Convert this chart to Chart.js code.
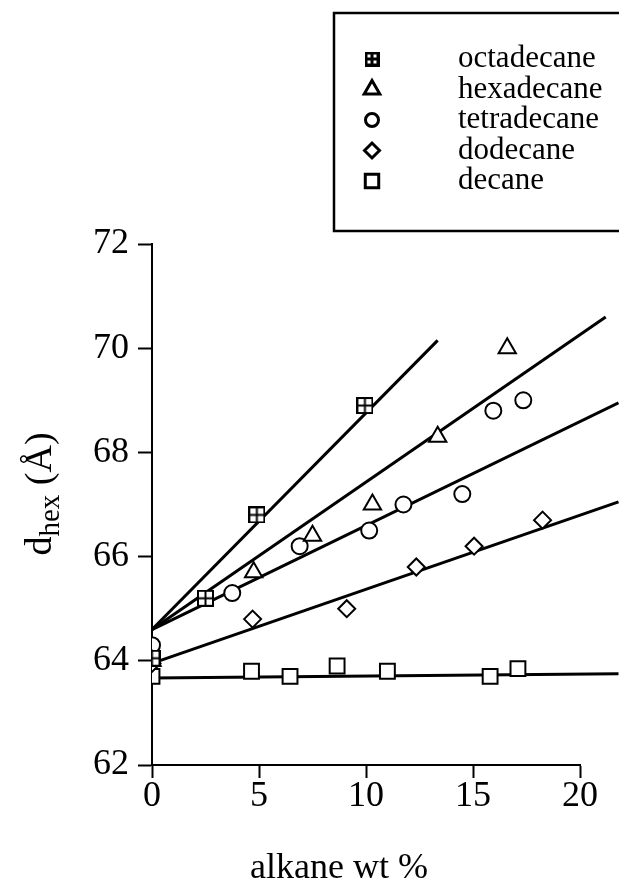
<!DOCTYPE html>
<html lang="en">
<head>
  <meta charset="UTF-8">
  <title>d_hex vs alkane wt %</title>
  <script src="https://cdn.jsdelivr.net/npm/chart.js"></script>
  <style>
    html, body { margin: 0; padding: 0; background: #fff; }
    #wrap { width: 619px; height: 894px; }
  </style>
</head>
<body>
  <div id="wrap"><canvas id="chart"></canvas></div>

  <script>
    const SERIF = "'Liberation Serif', 'Times New Roman', serif";

    const seriesNames = ['octadecane', 'hexadecane', 'tetradecane', 'dodecane', 'decane'];

    // measured points: alkane wt % (x) and d_hex in Å (y)
    const octX = [0, 2.5, 4.9, 9.95];
    const octY = [64.05, 65.2, 66.8, 68.9];
    const hexX = [0, 4.75, 7.5, 10.3, 13.35, 16.6];
    const hexY = [64.0, 65.7, 66.4, 67.0, 68.3, 70.0];
    const tetX = [0, 3.75, 6.9, 10.15, 11.75, 14.5, 15.95, 17.35];
    const tetY = [64.3, 65.3, 66.2, 66.5, 67.0, 67.2, 68.8, 69.0];
    const dodX = [0, 4.7, 9.1, 12.35, 15.05, 18.25];
    const dodY = [63.95, 64.8, 65.0, 65.8, 66.2, 66.7];
    const decX = [0, 4.65, 6.45, 8.65, 11.0, 15.8, 17.1];
    const decY = [63.7, 63.8, 63.7, 63.9, 63.8, 63.7, 63.85];

    // fitted straight lines, start and end as drawn in the figure
    const octFitX = [0, 13.35];
    const octFitY = [64.6, 70.15];
    const hexFitX = [0, 21.2];
    const hexFitY = [64.6, 70.6];
    const tetFitX = [0, 21.8];
    const tetFitY = [64.6, 68.95];
    const dodFitX = [0, 21.8];
    const dodFitY = [63.95, 67.05];
    const decFitX = [0, 21.8];
    const decFitY = [63.67, 63.75];

    const xTicks = [0, 5, 10, 15, 20];
    const yTicks = [62, 64, 66, 68, 70, 72];

    // square with a cross inside (octadecane marker)
    function boxPlus(size, lw) {
      const c = document.createElement('canvas');
      c.width = size;
      c.height = size;
      const g = c.getContext('2d');
      const h = lw / 2;
      g.fillStyle = '#fff';
      g.strokeStyle = '#000';
      g.lineWidth = lw;
      g.fillRect(h, h, size - lw, size - lw);
      g.strokeRect(h, h, size - lw, size - lw);
      g.beginPath();
      g.moveTo(size / 2, h);
      g.lineTo(size / 2, size - h);
      g.moveTo(h, size / 2);
      g.lineTo(size - h, size / 2);
      g.stroke();
      return c;
    }

    const toPts = (xs, ys) => xs.map((x, i) => ({ x: x, y: ys[i] }));

    function pointSet(label, xs, ys, style, radius) {
      return {
        label: label,
        data: toPts(xs, ys),
        showLine: false,
        pointStyle: style,
        pointRadius: radius,
        pointHoverRadius: radius,
        pointBorderWidth: 2,
        pointBorderColor: '#000',
        pointBackgroundColor: '#fff',
        order: 0
      };
    }

    function fitSet(xs, ys) {
      return {
        label: '',
        data: toPts(xs, ys),
        showLine: true,
        pointRadius: 0,
        borderColor: '#000',
        borderWidth: 3,
        clip: false,
        order: 1
      };
    }

    const markers = [
      { style: boxPlus(17, 2), radius: 8, legend: boxPlus(15, 3), legendRadius: 7 },
      { style: 'triangle', radius: 10, legend: 'triangle', legendRadius: 9 },
      { style: 'circle', radius: 8, legend: 'circle', legendRadius: 6.5 },
      { style: 'rectRot', radius: 8.5, legend: 'rectRot', legendRadius: 7.5 },
      { style: 'rect', radius: 10.5, legend: 'rect', legendRadius: 9.5 }
    ];

    const datasets = [
      pointSet(seriesNames[0], octX, octY, markers[0].style, markers[0].radius),
      pointSet(seriesNames[1], hexX, hexY, markers[1].style, markers[1].radius),
      pointSet(seriesNames[2], tetX, tetY, markers[2].style, markers[2].radius),
      pointSet(seriesNames[3], dodX, dodY, markers[3].style, markers[3].radius),
      pointSet(seriesNames[4], decX, decY, markers[4].style, markers[4].radius),
      fitSet(octFitX, octFitY),
      fitSet(hexFitX, hexFitY),
      fitSet(tetFitX, tetFitY),
      fitSet(dodFitX, dodFitY),
      fitSet(decFitX, decFitY)
    ];

    // boxed legend and the two axis titles
    const decorations = {
      id: 'decorations',
      afterDraw(chart) {
        const ctx = chart.ctx;
        ctx.save();

        ctx.strokeStyle = '#000';
        ctx.lineWidth = 2.5;
        ctx.strokeRect(334, 13, 300, 218);

        ctx.font = '31px ' + SERIF;
        ctx.textAlign = 'left';
        ctx.textBaseline = 'alphabetic';
        seriesNames.forEach((name, i) => {
          const y = 59 + i * 30.5;
          ctx.fillStyle = '#fff';
          ctx.strokeStyle = '#000';
          ctx.lineWidth = 3;
          Chart.helpers.drawPoint(ctx, {
            pointStyle: markers[i].legend,
            radius: markers[i].legendRadius,
            rotation: 0,
            borderWidth: 3
          }, 372, y);
          ctx.fillStyle = '#000';
          ctx.fillText(name, 458, y + 8);
        });

        // x title
        ctx.font = '36px ' + SERIF;
        ctx.textAlign = 'center';
        ctx.fillText('alkane wt %', 339, 878);

        // y title with subscript
        ctx.translate(51, 494);
        ctx.rotate(-Math.PI / 2);
        ctx.textAlign = 'left';
        ctx.font = '38px ' + SERIF;
        const wD = ctx.measureText('d').width;
        const wRest = ctx.measureText(' (Å)').width;
        ctx.font = '29px ' + SERIF;
        const wSub = ctx.measureText('hex').width;
        let x0 = -(wD + wSub + wRest) / 2;
        ctx.font = '38px ' + SERIF;
        ctx.fillText('d', x0, 0);
        ctx.font = '29px ' + SERIF;
        ctx.fillText('hex', x0 + wD, 8);
        ctx.font = '38px ' + SERIF;
        ctx.fillText(' (Å)', x0 + wD + wSub, 0);

        ctx.restore();
      }
    };

    const ctx = document.getElementById('chart').getContext('2d');
    const chart = new Chart(ctx, {
      type: 'scatter',
      data: { datasets: datasets },
      options: {
        responsive: true,
        maintainAspectRatio: false,
        animation: false,
        events: [],
        layout: { padding: { left: 0, top: 244, right: 39, bottom: 0 } },
        plugins: {
          legend: { display: false },
          tooltip: { enabled: false }
        },
        scales: {
          x: {
            type: 'linear',
            min: xTicks[0],
            max: xTicks[xTicks.length - 1],
            ticks: {
              stepSize: xTicks[1] - xTicks[0],
              color: '#000',
              padding: 0,
              maxRotation: 0,
              font: { family: SERIF, size: 36, lineHeight: 1.05 }
            },
            grid: { drawOnChartArea: false, drawTicks: true, tickLength: 13, tickWidth: 2, tickColor: '#000' },
            border: { display: true, color: '#000', width: 2 },
            afterFit: (s) => { s.height = 129; }
          },
          y: {
            type: 'linear',
            min: yTicks[0],
            max: yTicks[yTicks.length - 1],
            ticks: {
              stepSize: yTicks[1] - yTicks[0],
              color: '#000',
              padding: 9,
              font: { family: SERIF, size: 36 }
            },
            grid: { drawOnChartArea: false, drawTicks: true, tickLength: 14, tickWidth: 2, tickColor: '#000' },
            border: { display: true, color: '#000', width: 2 },
            afterFit: (s) => { s.width = 152; }
          }
        }
      },
      plugins: [decorations]
    });
  </script>
</body>
</html>
